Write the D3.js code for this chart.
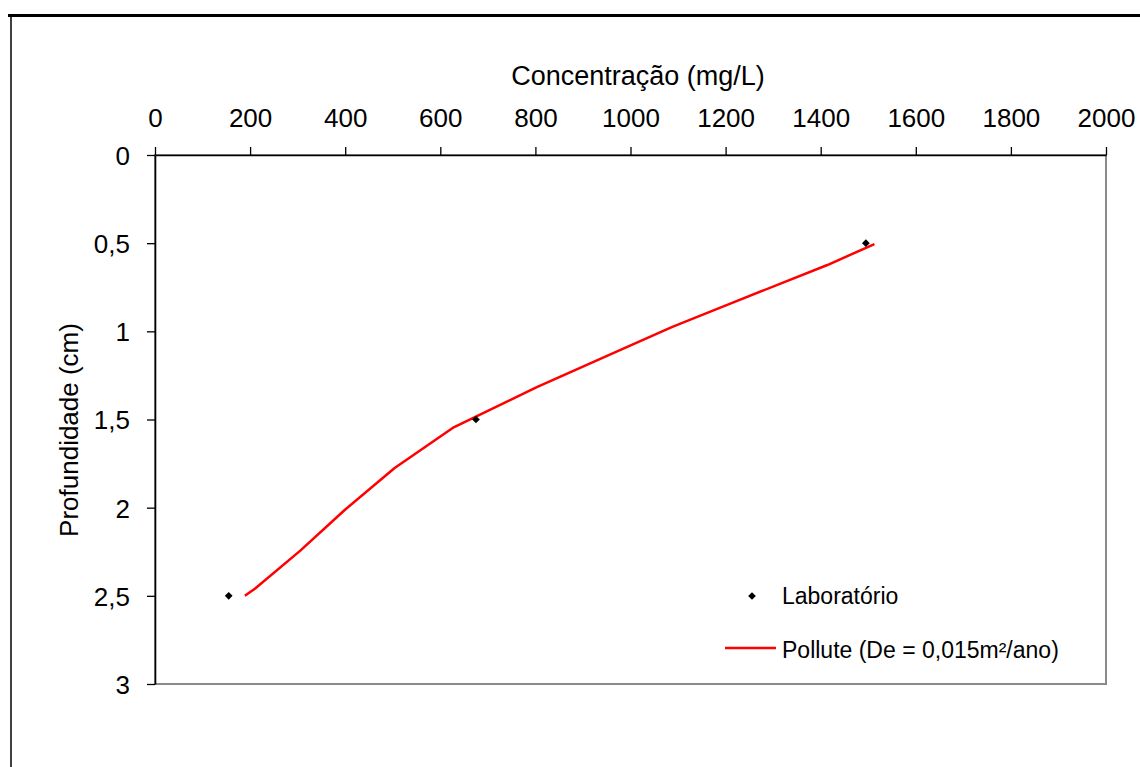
<!DOCTYPE html>
<html>
<head>
<meta charset="utf-8">
<script src="https://cdn.jsdelivr.net/npm/d3@7"></script>
<style>
  html, body { margin: 0; padding: 0; background: #fff; }
  svg { display: block; font-family: "Liberation Sans", Arial, sans-serif; }
</style>
</head>
<body>
<svg id="chart" width="1140" height="767"></svg>
<script>
// Laboratory measurements: concentration (mg/L) at depth (cm)
const labConc  = [155, 675, 1495];
const labDepth = [2.5, 1.5, 0.5];

// Pollute model profile (De = 0,015 m²/ano)
const modelConc  = [189, 210, 305, 399, 504, 626, 803, 992, 1088, 1202, 1414, 1513];
const modelDepth = [2.5, 2.46, 2.245, 2.013, 1.775, 1.548, 1.316, 1.089, 0.975, 0.851, 0.624, 0.505];

// Axis ticks
const xTicks = [0, 200, 400, 600, 800, 1000, 1200, 1400, 1600, 1800, 2000];
const yTicks = [0, 0.5, 1, 1.5, 2, 2.5, 3];
const yTickLabels = ["0", "0,5", "1", "1,5", "2", "2,5", "3"];

const svg = d3.select("#chart");

// Outer frame (top and left rules)
svg.append("line").attr("x1", 8).attr("x2", 1140).attr("y1", 15.5).attr("y2", 15.5)
  .attr("stroke", "#000").attr("stroke-width", 3);
svg.append("line").attr("x1", 11).attr("x2", 11).attr("y1", 14).attr("y2", 767)
  .attr("stroke", "#000").attr("stroke-width", 1.5);

const plot = { left: 155, right: 1106, top: 155, bottom: 684 };

const x = d3.scaleLinear().domain([0, 2000]).range([plot.left, plot.right]);
const y = d3.scaleLinear().domain([0, 3]).range([plot.top, plot.bottom]);

// Plot area border (grey)
svg.append("rect")
  .attr("x", plot.left).attr("y", plot.top)
  .attr("width", plot.right - plot.left).attr("height", plot.bottom - plot.top)
  .attr("fill", "none").attr("stroke", "#8a8a8a").attr("stroke-width", 2);

// Top x axis
const xAxis = svg.append("g")
  .attr("transform", `translate(0,${plot.top})`)
  .call(d3.axisTop(x).tickValues(xTicks).tickFormat(d3.format("d"))
    .tickSize(8).tickSizeOuter(0).tickPadding(20.5));

// Left y axis
const yAxis = svg.append("g")
  .attr("transform", `translate(${plot.left},0)`)
  .call(d3.axisLeft(y).tickValues(yTicks).tickFormat((d, i) => yTickLabels[i])
    .tickSize(8).tickSizeOuter(0).tickPadding(17));

[xAxis, yAxis].forEach(g => {
  g.select(".domain").attr("stroke", "#000").attr("stroke-width", 1.6);
  g.selectAll(".tick line").attr("stroke", "#000").attr("stroke-width", 1.3);
  g.selectAll(".tick text").attr("fill", "#000").style("font-size", "26px")
    .style("font-family", "'Liberation Sans', Arial, sans-serif");
});
yAxis.selectAll(".tick text").attr("dy", "0.36em");

// Axis titles
svg.append("text")
  .attr("x", 638).attr("y", 85)
  .attr("text-anchor", "middle")
  .style("font-size", "27px")
  .text("Concentração (mg/L)");

svg.append("text")
  .attr("transform", "translate(78,430) rotate(-90)")
  .attr("text-anchor", "middle")
  .style("font-size", "26px")
  .text("Profundidade (cm)");

// Model curve
const line = d3.line()
  .x(d => x(d[0]))
  .y(d => y(d[1]));

svg.append("path")
  .datum(modelConc.map((c, i) => [c, modelDepth[i]]))
  .attr("d", line)
  .attr("fill", "none")
  .attr("stroke", "#ff0000")
  .attr("stroke-width", 2.5)
  .attr("stroke-linejoin", "round");

// Laboratory points (small diamonds: squares turned 45°)
const marker = d3.symbol().type(d3.symbolSquare).size(30);
svg.append("g").selectAll("path")
  .data(labConc.map((c, i) => [c, labDepth[i]]))
  .join("path")
  .attr("transform", d => `translate(${x(d[0])},${y(d[1])}) rotate(45)`)
  .attr("d", marker)
  .attr("fill", "#000");

// Legend
const legend = svg.append("g").style("font-size", "23px");
legend.append("path")
  .attr("transform", "translate(752,596) rotate(45)")
  .attr("d", marker)
  .attr("fill", "#000");
legend.append("text").attr("x", 782).attr("y", 603.5).text("Laboratório");

legend.append("line")
  .attr("x1", 725).attr("x2", 776).attr("y1", 648).attr("y2", 648)
  .attr("stroke", "#ff0000").attr("stroke-width", 2.5);
legend.append("text").attr("x", 782).attr("y", 657.5).text("Pollute (De = 0,015m²/ano)");
</script>
</body>
</html>
